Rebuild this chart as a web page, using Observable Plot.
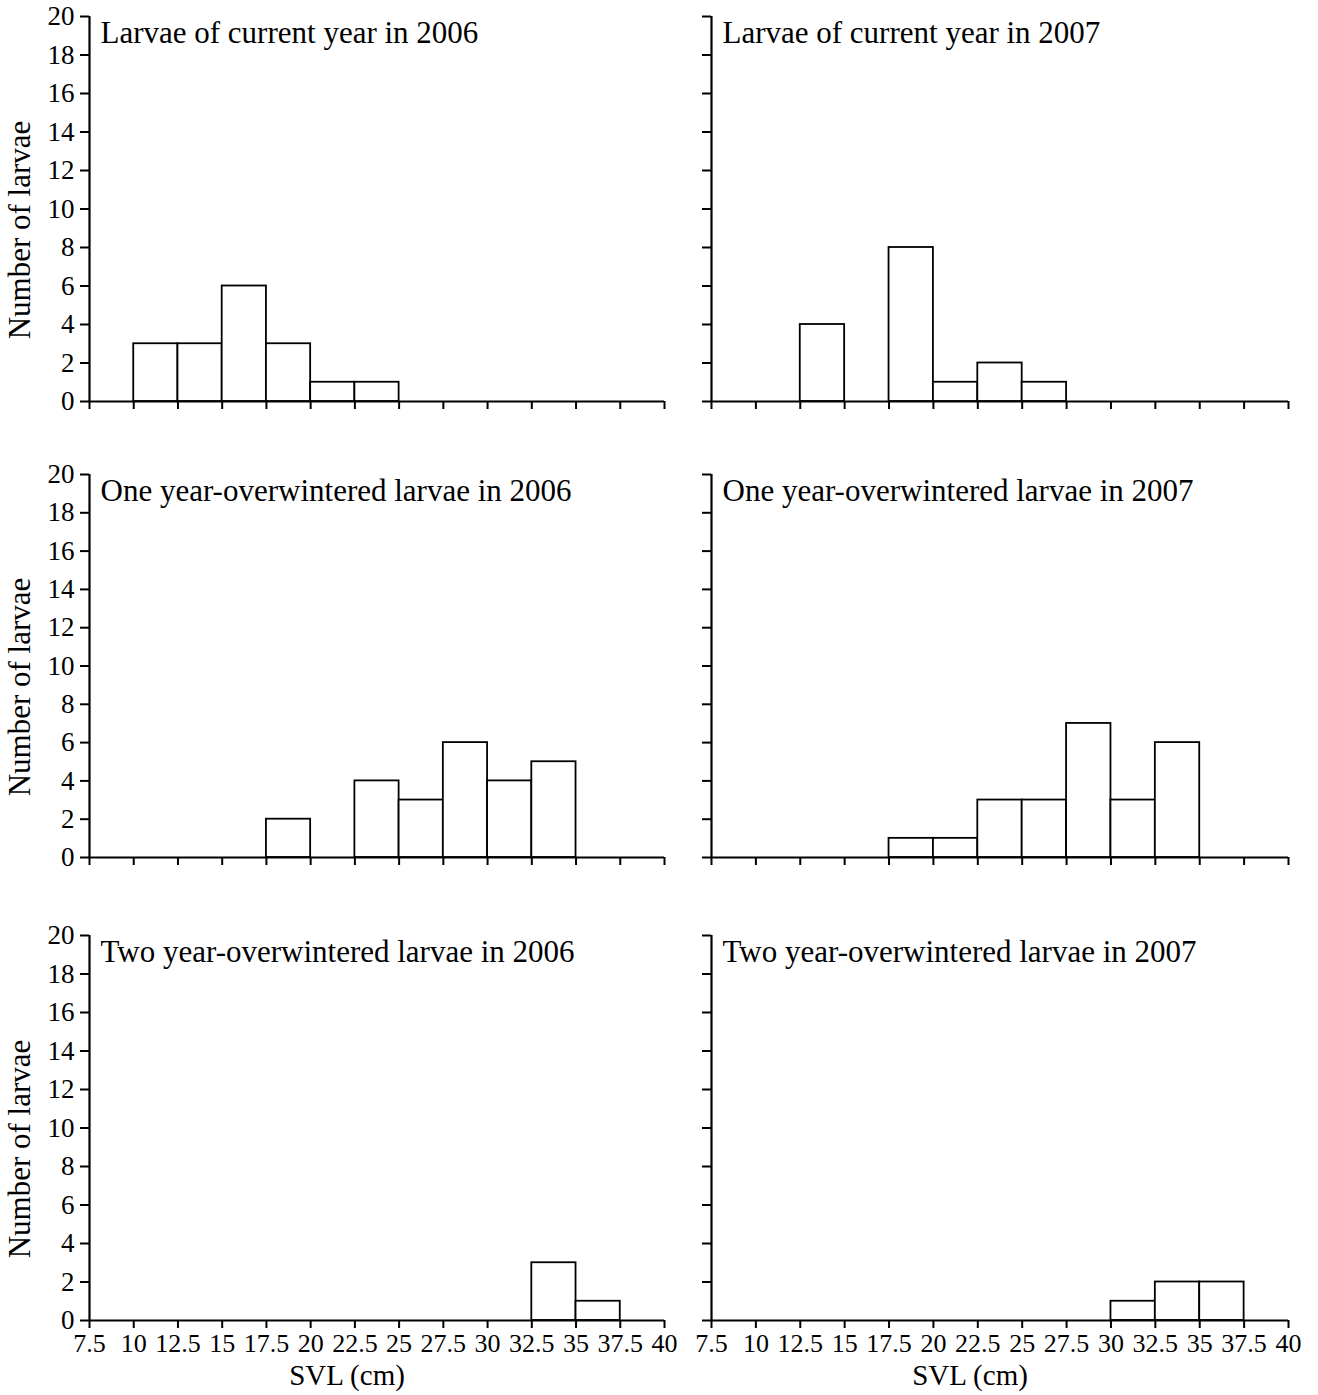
<!DOCTYPE html>
<html>
<head>
<meta charset="utf-8">
<script src="https://cdn.jsdelivr.net/npm/d3@7"></script>
<script src="https://cdn.jsdelivr.net/npm/@observablehq/plot@0.6"></script>
<style>
  html, body { margin: 0; padding: 0; background: #fff; }
  #chart { position: relative; width: 1318px; height: 1395px; background: #fff;
           font-family: "Liberation Serif", "Times New Roman", serif; }
  #chart > div { position: absolute; }
  #chart svg { overflow: visible; }
</style>
</head>
<body>
<div id="chart"></div>
<script>
// Bin edges of SVL (cm) and axis tick labels
const binEdges = [7.5, 10, 12.5, 15, 17.5, 20, 22.5, 25, 27.5, 30, 32.5, 35, 37.5, 40];
const xTickLabels = ["7.5", "10", "12.5", "15", "17.5", "20", "22.5", "25", "27.5", "30", "32.5", "35", "37.5", "40"];
const yTicks = [0, 2, 4, 6, 8, 10, 12, 14, 16, 18, 20];
const yTickLabels = ["0", "2", "4", "6", "8", "10", "12", "14", "16", "18", "20"];

// Counts per bin (bins 7.5-10 ... 37.5-40)
const current2006 = [0, 3, 3, 6, 3, 1, 1, 0, 0, 0, 0, 0, 0];
const current2007 = [0, 0, 4, 0, 8, 1, 2, 1, 0, 0, 0, 0, 0];
const oneYear2006 = [0, 0, 0, 0, 2, 0, 4, 3, 6, 4, 5, 0, 0];
const oneYear2007 = [0, 0, 0, 0, 1, 1, 3, 3, 7, 3, 6, 0, 0];
const twoYear2006 = [0, 0, 0, 0, 0, 0, 0, 0, 0, 0, 3, 1, 0];
const twoYear2007 = [0, 0, 0, 0, 0, 0, 0, 0, 0, 1, 2, 2, 0];

const titles = [
  ["Larvae of current year in 2006", "Larvae of current year in 2007"],
  ["One year-overwintered larvae in 2006", "One year-overwintered larvae in 2007"],
  ["Two year-overwintered larvae in 2006", "Two year-overwintered larvae in 2007"]
];
const series = [
  [current2006, current2007],
  [oneYear2006, oneYear2007],
  [twoYear2006, twoYear2007]
];
const yLabel = "Number of larvae";
const xLabel = "SVL (cm)";

const FONT = '"Liberation Serif", "Times New Roman", serif';
const rowLayout = [
  {top: 0, height: 458, marginTop: 16, marginBottom: 57},
  {top: 458, height: 462, marginTop: 16, marginBottom: 63},
  {top: 919, height: 476, marginTop: 16, marginBottom: 75}
];
const colLayout = [
  {left: 0, width: 680, marginLeft: 89, marginRight: 16},
  {left: 680, width: 638, marginLeft: 31, marginRight: 30}
];

function toBars(counts) {
  return counts.map((c, i) => ({x1: binEdges[i], x2: binEdges[i + 1], y: c})).filter(d => d.y > 0);
}

const chart = document.getElementById("chart");
for (let r = 0; r < 3; r++) {
  for (let c = 0; c < 2; c++) {
    const R = rowLayout[r], C = colLayout[c];
    const isLeft = c === 0, isBottom = r === 2;
    const marks = [
      Plot.rectY(toBars(series[r][c]), {x1: "x1", x2: "x2", y: "y", fill: "white", stroke: "black", strokeWidth: 1.8, inset: 0}),
      Plot.ruleY([0], {stroke: "black", strokeWidth: 2.2}),
      Plot.ruleX([binEdges[0]], {y1: yTicks[0], y2: yTicks[yTicks.length - 1], stroke: "black", strokeWidth: 2.2}),
      Plot.axisY({ticks: yTicks, tickSize: 9, tickPadding: 6, strokeWidth: 2, fontSize: 27,
        tickFormat: isLeft ? ((d, i) => yTickLabels[i]) : (() => ""), label: null}),
      Plot.axisX({ticks: binEdges, tickSize: 8, tickPadding: 5, strokeWidth: 2, fontSize: 26,
        tickFormat: isBottom ? ((d, i) => xTickLabels[i]) : (() => ""), label: null}),
      Plot.text([titles[r][c]], {frameAnchor: "top-left", textAnchor: "start", lineAnchor: "top",
        dx: 11, dy: 4, fontSize: 31, fill: "black"})
    ];
    if (isLeft) {
      marks.push(Plot.text([yLabel], {frameAnchor: "left", rotate: -90, textAnchor: "middle", lineAnchor: "top",
        dx: -82, dy: 21, fontSize: 31, fill: "black"}));
    }
    if (isBottom) {
      marks.push(Plot.text([xLabel], {frameAnchor: "bottom", textAnchor: "middle", lineAnchor: "top",
        dx: -30, dy: 44, fontSize: 29, fill: "black"}));
    }
    const plot = Plot.plot({
      width: C.width, height: R.height,
      marginLeft: C.marginLeft, marginRight: C.marginRight,
      marginTop: R.marginTop, marginBottom: R.marginBottom,
      x: {domain: [binEdges[0], binEdges[binEdges.length - 1]]},
      y: {domain: [yTicks[0], yTicks[yTicks.length - 1]]},
      style: {fontFamily: FONT, fontSize: "26px", color: "black", background: "transparent", overflow: "visible"},
      marks
    });
    const wrap = document.createElement("div");
    wrap.style.left = C.left + "px";
    wrap.style.top = R.top + "px";
    wrap.appendChild(plot);
    chart.appendChild(wrap);
  }
}
</script>
</body>
</html>
